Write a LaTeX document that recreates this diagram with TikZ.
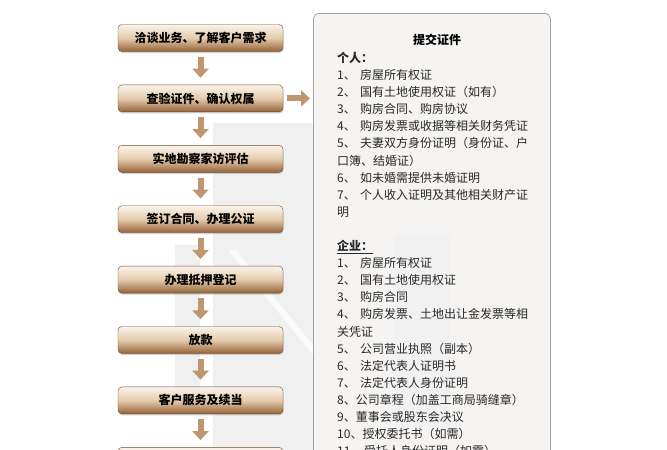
\documentclass[tikz,border=0pt]{standalone}
\usepackage{fontspec}
\newfontfamily\cjk{Noto Sans CJK SC}
\usetikzlibrary{positioning,arrows.meta,shadows}

\definecolor{boxtop}{RGB}{250,244,236}
\definecolor{boxmid}{RGB}{228,203,172}
\definecolor{boxbot}{RGB}{148,98,56}
\definecolor{boxline}{RGB}{110,74,42}
\definecolor{arrowtan}{RGB}{190,150,112}
\definecolor{panelfill}{RGB}{244,242,240}
\definecolor{panelline}{RGB}{168,162,156}
\definecolor{listtext}{RGB}{40,40,40}
\definecolor{wmgray}{RGB}{240,240,240}

\newcommand{\itemno}[1]{\makebox[23pt][l]{#1}}

\begin{document}
\begin{tikzpicture}[x=1pt,y=-1pt]

  % Definitions
  \tikzstyle{stage} = [rectangle, rounded corners=4pt, minimum width=165pt, minimum height=27pt, inner sep=0pt, text centered, draw=boxline, top color=boxtop, bottom color=boxbot, middle color=boxmid, font=\cjk\bfseries\fontsize{12}{14}\selectfont, drop shadow={shadow xshift=0.5pt, shadow yshift=-1.5pt, opacity=0.35}]
  \tikzstyle{panel} = [rectangle, rounded corners=6pt, minimum width=237pt, minimum height=480pt, draw=panelline, fill=panelfill, line width=0.8pt, fill opacity=0.85]
  \tikzstyle{arrow} = [line width=6pt, draw=arrowtan, -{Triangle[width=16pt,length=9pt]}]

  \clip (0,0) rectangle (667,450);

  % watermark
  \fill [wmgray] (213,123) rectangle (313,450);
  \fill [wmgray] (175,245) rectangle (200,412);
  \fill [white, opacity=0.7] (228,250) -- (236,250) -- (313,345) -- (313,355) -- cycle;

  \node (docs) [panel, anchor=north west] at (313,13) {};
  \fill [wmgray, opacity=0.5] (395,235) -- (450,235) -- (450,430) -- (395,430) -- cycle;

  \node (consult) [stage] at (200.5,38) {洽谈业务、了解客户需求};
  \node (verify) [stage, below=33pt of consult] {查验证件、确认权属};
  \node (survey) [stage, below=33pt of verify] {实地勘察家访评估};
  \node (contract) [stage, below=33pt of survey] {签订合同、办理公证};
  \node (pledge) [stage, below=33pt of contract] {办理抵押登记};
  \node (loan) [stage, below=33pt of pledge] {放款};
  \node (service) [stage, below=33pt of loan] {客户服务及续当};
  \node (next) [stage, below=33pt of service] {};

  \draw [arrow] ([yshift=-5pt]consult.south) -- ([yshift=7pt]verify.north);
  \draw [arrow] ([yshift=-5pt]verify.south) -- ([yshift=7pt]survey.north);
  \draw [arrow] ([yshift=-5pt]survey.south) -- ([yshift=7pt]contract.north);
  \draw [arrow] ([yshift=-5pt]contract.south) -- ([yshift=7pt]pledge.north);
  \draw [arrow] ([yshift=-5pt]pledge.south) -- ([yshift=7pt]loan.north);
  \draw [arrow] ([yshift=-5pt]loan.south) -- ([yshift=7pt]service.north);
  \draw [arrow] ([yshift=-5pt]service.south) -- ([yshift=7pt]next.north);
  \draw [arrow] ([xshift=4pt]verify.east) -- ([xshift=-3pt]verify.east -| docs.west);

  \node (title) [font=\cjk\bfseries\fontsize{12}{14}\selectfont] at (437,40) {提交证件};
  \node (items) [anchor=north west, inner sep=0pt, align=left, text=listtext, font=\cjk\fontsize{12}{17.1}\selectfont] at (337,52) {%
\textbf{个人：}\\
\itemno{1、}房屋所有权证\\
\itemno{2、}国有土地使用权证（如有）\\
\itemno{3、}购房合同、购房协议\\
\itemno{4、}购房发票或收据等相关财务凭证\\
\itemno{5、}夫妻双方身份证明（身份证、户\\
口簿、结婚证）\\
\itemno{6、}如未婚需提供未婚证明\\
\itemno{7、}个人收入证明及其他相关财产证\\
明\\[17.1pt]
\underline{\textbf{企业：}}\\
\itemno{1、}房屋所有权证\\
\itemno{2、}国有土地使用权证\\
\itemno{3、}购房合同\\
\itemno{4、}购房发票、土地出让金发票等相\\
关凭证\\
\itemno{5、}公司营业执照（副本）\\
\itemno{6、}法定代表人证明书\\
\itemno{7、}法定代表人身份证明\\
8、公司章程（加盖工商局骑缝章）\\
9、董事会或股东会决议\\
10、授权委托书（如需）\\
\makebox[27pt][l]{11、}受托人身份证明（如需）};

\end{tikzpicture}
\end{document}
